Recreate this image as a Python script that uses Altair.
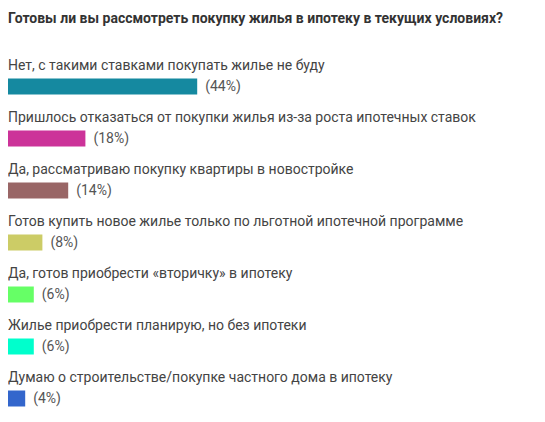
import altair as alt
import pandas as pd

# survey answers, top to bottom
answers = [
    "Нет, с такими ставками покупать жилье не буду",
    "Пришлось отказаться от покупки жилья из-за роста ипотечных ставок",
    "Да, рассматриваю покупку квартиры в новостройке",
    "Готов купить новое жилье только по льготной ипотечной программе",
    "Да, готов приобрести «вторичку» в ипотеку",
    "Жилье приобрести планирую, но без ипотеки",
    "Думаю о строительстве/покупке частного дома в ипотеку",
]
shares = [44, 18, 14, 8, 6, 6, 4]
colors = ["#1589a0", "#cc3399", "#996666", "#cccc66", "#66ff66", "#00ffcc", "#3366cc"]

title = "Готовы ли вы рассмотреть покупку жилья в ипотеку в текущих условиях?"

df = pd.DataFrame({"answer": answers, "share": shares, "color": colors})
df["pct"] = ["(%d%%)" % s for s in shares]

y = alt.Y("answer:N", sort=answers, axis=None,
          scale=alt.Scale(paddingInner=0, paddingOuter=0))
x = alt.X("share:Q", axis=None, scale=alt.Scale(domain=[0, 100]))

base = alt.Chart(df).encode(y=y)

bars = base.mark_bar(height=16, yOffset=10.5).encode(
    x=x,
    color=alt.Color("color:N", scale=None),
)

labels = base.mark_text(
    align="left", baseline="middle", dy=-10.5,
    font="Roboto", fontSize=14, color="#444444",
).encode(x=alt.value(0), text="answer:N")

pcts = base.mark_text(
    align="left", baseline="middle", dx=8, dy=10.5,
    font="Roboto", fontSize=14, color="#555555",
).encode(x=x, text="pct:N")

chart = (bars + labels + pcts).properties(
    width=430,
    height=364,
    padding={"left": 0, "top": 4, "right": 0, "bottom": 0},
    title=alt.TitleParams(
        title, anchor="start", font="Roboto", fontSize=14,
        fontWeight="bold", color="#333333", offset=24,
    ),
).configure_view(strokeWidth=0)

chart.save("out.html", embed_options={"renderer": "svg", "actions": False})
